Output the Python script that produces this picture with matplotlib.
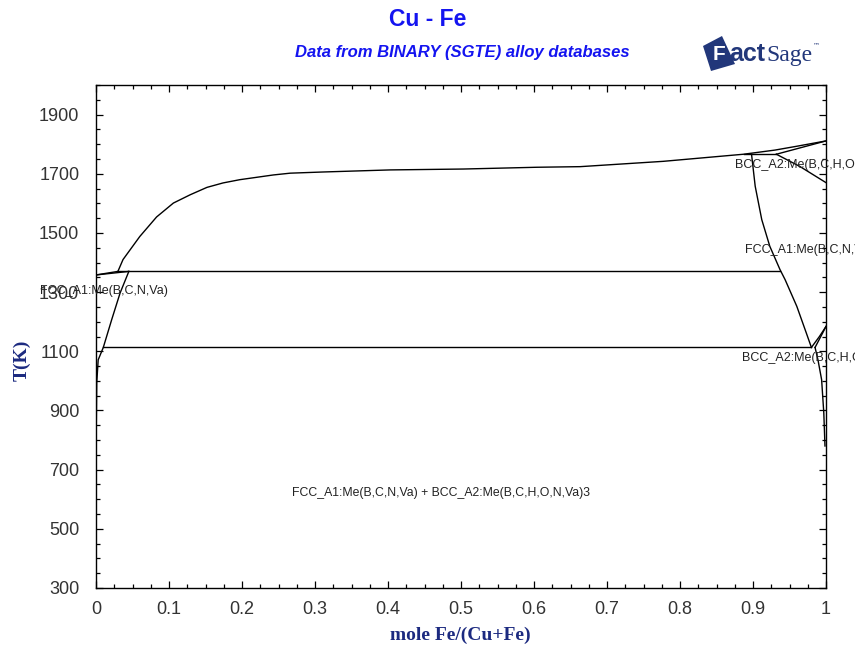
#!/usr/bin/env python3
"""Cu-Fe binary phase diagram (FactSage style)."""

import matplotlib
matplotlib.use("Agg")
import matplotlib.pyplot as plt
from matplotlib.patches import Polygon
from matplotlib.ticker import MultipleLocator

# ---------------------------------------------------------------------------
# Phase boundary data (x = mole Fe/(Cu+Fe), T in K)
# ---------------------------------------------------------------------------
liq_cu_x = [0.0, 0.030]
liq_cu_t = [1358, 1370]
sol_cu_x = [0.0, 0.045]
sol_cu_t = [1358, 1370]

liquidus_x = [0.030, 0.037, 0.060, 0.083, 0.106, 0.129, 0.152, 0.174, 0.197,
              0.220, 0.243, 0.266, 0.311, 0.403, 0.503, 0.604, 0.663, 0.777,
              0.887, 0.930, 0.960, 1.0]
liquidus_t = [1370, 1410, 1488, 1554, 1601, 1629, 1654, 1669, 1680,
              1688, 1696, 1702, 1706, 1713, 1716, 1722, 1724, 1742,
              1766, 1780, 1793, 1811]

peritectic_x = [0.887, 0.932]
peritectic_t = [1766, 1766]

delta_sol_x = [0.932, 1.0]
delta_sol_t = [1766, 1811]

delta_gamma_x = [0.932, 0.964, 1.0]
delta_gamma_t = [1766, 1725, 1670]

gamma_fe_x = [0.898, 0.903, 0.912, 0.923, 0.937, 0.944, 0.960, 0.973, 0.980]
gamma_fe_t = [1766, 1658, 1545, 1455, 1376, 1342, 1252, 1162, 1113]

monotectic_x = [0.030, 0.937]
monotectic_t = [1370, 1370]

eutectoid_x = [0.010, 0.980]
eutectoid_t = [1113, 1113]

fcc_cu_x = [0.045, 0.033, 0.0215, 0.010, 0.003, 0.001, 0.0002]
fcc_cu_t = [1370, 1297, 1207, 1113, 1071, 993, 800]

alpha_fe_x = [0.985, 0.989, 0.994, 0.997, 0.9986]
alpha_fe_t = [1113, 1071, 1004, 891, 780]

gamma_alpha_x = [0.980, 0.991, 1.0]
gamma_alpha_t = [1113, 1150, 1184]
alpha_gamma_x = [0.985, 0.995, 1.0]
alpha_gamma_t = [1113, 1160, 1184]

curves = [
    (liq_cu_x, liq_cu_t), (sol_cu_x, sol_cu_t), (liquidus_x, liquidus_t),
    (peritectic_x, peritectic_t), (delta_sol_x, delta_sol_t),
    (delta_gamma_x, delta_gamma_t), (gamma_fe_x, gamma_fe_t),
    (monotectic_x, monotectic_t), (eutectoid_x, eutectoid_t),
    (fcc_cu_x, fcc_cu_t), (alpha_fe_x, alpha_fe_t),
    (gamma_alpha_x, gamma_alpha_t), (alpha_gamma_x, alpha_gamma_t),
]

x_ticks = [0.0, 0.1, 0.2, 0.3, 0.4, 0.5, 0.6, 0.7, 0.8, 0.9, 1.0]
x_tick_labels = ["0", "0.1", "0.2", "0.3", "0.4", "0.5", "0.6", "0.7",
                 "0.8", "0.9", "1"]
y_ticks = [300, 500, 700, 900, 1100, 1300, 1500, 1700, 1900]

# (x, T, text, fontsize) -- the right-hand labels run off the page as in
# the original FactSage output
phase_labels = [
    (-0.077, 1303, "FCC_A1:Me(B,C,N,Va)", 9),
    (0.875, 1731, "BCC_A2:Me(B,C,H,O,N,Va)", 9),
    (0.889, 1443, "FCC_A1:Me(B,C,N,Va)", 9),
    (0.885, 1078, "BCC_A2:Me(B,C,H,O,N,Va)", 9),
    (0.268, 621, "FCC_A1:Me(B,C,N,Va) + BCC_A2:Me(B,C,H,O,N,Va)3", 8.8),
]

SANS = ["Liberation Sans Narrow", "Liberation Sans", "DejaVu Sans"]
BLUE = "#1414f0"
NAVY = "#1c2a80"

# ---------------------------------------------------------------------------
fig = plt.figure(figsize=(8.55, 6.52), dpi=100)
ax = fig.add_axes([96 / 855, 64 / 652, 730 / 855, 503 / 652])

for xs, ts in curves:
    ax.plot(xs, ts, color="black", linewidth=1.0)

ax.set_xlim(0, 1)
ax.set_ylim(300, 2000)
ax.set_xticks(x_ticks)
ax.set_xticklabels(x_tick_labels)
ax.set_yticks(y_ticks)
ax.xaxis.set_minor_locator(MultipleLocator(0.025))
ax.yaxis.set_minor_locator(MultipleLocator(50))
ax.tick_params(which="both", direction="in", top=True, right=True,
               colors="black", labelcolor="#333333")
ax.tick_params(which="major", length=5, width=0.9)
ax.tick_params(which="minor", length=3, width=0.9)
ax.tick_params(axis="x", pad=9)
ax.tick_params(axis="y", pad=12)
for lab in ax.get_xticklabels() + ax.get_yticklabels():
    lab.set_family(SANS)
    lab.set_fontsize(13)
for sp in ax.spines.values():
    sp.set_linewidth(1.0)

for x, t, s, fs in phase_labels:
    ax.text(x, t, s, fontsize=fs, family=SANS, color="#222222",
            va="center", ha="left", clip_on=False)

# Axis titles
fig.text(22 / 855, 1 - 360 / 652, "T(K)", rotation=90, ha="center",
         va="center", family="Liberation Serif", fontweight="bold",
         fontsize=14, color=NAVY)
fig.text(460 / 855, 1 - 635 / 652, "mole Fe/(Cu+Fe)", ha="center",
         va="center", family="Liberation Serif", fontweight="bold",
         fontsize=14, color=NAVY)

# Title block
fig.text(428 / 855, 1 - 20 / 652, "Cu - Fe", ha="center", va="center",
         family=SANS, fontweight="bold", fontsize=16.5, color=BLUE)
fig.text(462 / 855, 1 - 52 / 652, "Data from BINARY (SGTE) alloy databases",
         ha="center", va="center", family=SANS, fontweight="bold",
         style="italic", fontsize=12, color=BLUE)

# FactSage logo
LOGO = "#22377a"
logo_pts = [(703, 46), (722, 36), (735, 64), (711, 71)]
fig.add_artist(Polygon([(px / 855, 1 - py / 652) for px, py in logo_pts],
                       closed=True, transform=fig.transFigure,
                       facecolor=LOGO, edgecolor="none"))
fig.text(713 / 855, 1 - 54 / 652, "F", ha="left", va="center",
         family="Liberation Sans", fontweight="bold", fontsize=15,
         color="white")
t_act = fig.text(729 / 855, 1 - 54 / 652, "act", ha="left", va="center",
                 family="Liberation Sans", fontweight="bold", fontsize=18,
                 color=LOGO)
fig.canvas.draw()
act_end = t_act.get_window_extent().x1 / fig.bbox.width
t_sage = fig.text(act_end + 1 / 855, 1 - 55 / 652, "Sage", ha="left",
                  va="center", family="Liberation Serif", fontsize=17,
                  color=LOGO)
fig.canvas.draw()
sage_end = t_sage.get_window_extent().x1 / fig.bbox.width
fig.text(sage_end + 1 / 855, 1 - 45 / 652, "\u2122", ha="left", va="center",
         family="DejaVu Sans", fontsize=5, color=LOGO)

fig.savefig("out.png", dpi=100)
